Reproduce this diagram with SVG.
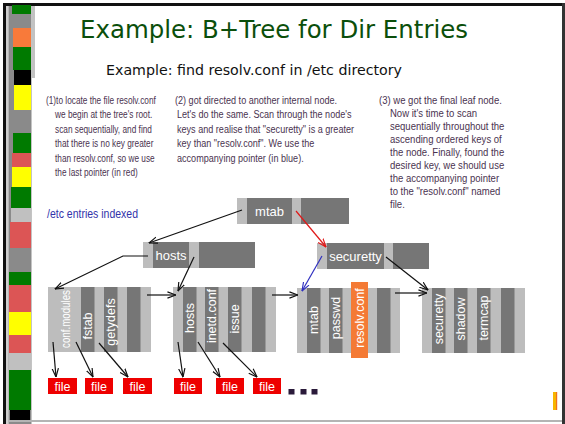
<svg xmlns="http://www.w3.org/2000/svg" width="565" height="424" viewBox="0 0 565 424">
<defs>
<marker id="ak" viewBox="0 0 10 10" refX="9.5" refY="5" markerWidth="9" markerHeight="9" orient="auto" markerUnits="userSpaceOnUse"><path d="M0,1.5 L9.5,5 L0,8.5" fill="none" stroke="#111" stroke-width="1.3"/></marker>
<marker id="ar" viewBox="0 0 10 10" refX="9.5" refY="5" markerWidth="9" markerHeight="9" orient="auto" markerUnits="userSpaceOnUse"><path d="M0,1.5 L9.5,5 L0,8.5" fill="none" stroke="#e01818" stroke-width="1.3"/></marker>
<marker id="ab" viewBox="0 0 10 10" refX="9.5" refY="5" markerWidth="9" markerHeight="9" orient="auto" markerUnits="userSpaceOnUse"><path d="M0,1.5 L9.5,5 L0,8.5" fill="none" stroke="#3030c0" stroke-width="1.3"/></marker>
</defs>
<style>
.lt{fill:#bdbdbd}
.dk{fill:#767676}
.key{font-family:"Liberation Sans",Arial,sans-serif;font-size:12.5px;fill:#fff;text-anchor:middle}
.nk{font-family:"Liberation Sans",Arial,sans-serif;font-size:13px;fill:#fff;text-anchor:middle}
.par{font-family:"Liberation Sans",Arial,sans-serif;font-size:11.5px;fill:#4a3350}
.file rect{fill:#ee0000}
.file text{font-family:"Liberation Sans",Arial,sans-serif;font-size:12.5px;fill:#fff;text-anchor:middle}
.c{fill:none;stroke:#111;stroke-width:1.2;marker-end:url(#ak)}
</style>
<rect width="565" height="424" fill="#fff"/>
<g id="frame">
<rect x="3" y="3" width="562" height="3" fill="#111"/>
<rect x="3" y="3" width="3" height="421" fill="#111"/>
<rect x="6" y="6" width="2.5" height="418" fill="#cfcfcf"/>
<rect x="8.5" y="6" width="23" height="418" fill="#8a8a8a"/>
<rect x="31.5" y="6" width="3.5" height="72" fill="#c2c2c2"/>
<rect x="562" y="3" width="3" height="421" fill="#333"/>
<rect x="8" y="420" width="554" height="2" fill="#b4b4b4"/>
<rect x="12" y="5" width="19" height="9" fill="#007a00"/>
<rect x="13" y="28" width="18" height="19" fill="#f87a3a"/>
<rect x="13" y="47" width="18" height="23" fill="#007a00"/>
<rect x="14" y="70" width="17" height="15" fill="#000"/>
<rect x="14" y="85" width="17" height="25" fill="#ffff00"/>
<rect x="13" y="133" width="18" height="20" fill="#007a00"/>
<rect x="12" y="153" width="19" height="14" fill="#dc5555"/>
<rect x="12" y="167" width="19" height="20" fill="#ffff00"/>
<rect x="11" y="187" width="20" height="21" fill="#007a00"/>
<rect x="11" y="208" width="20" height="14" fill="#c0c0c0"/>
<rect x="10" y="222" width="21" height="26" fill="#dc5555"/>
<rect x="9" y="272" width="22" height="13" fill="#007a00"/>
<rect x="9" y="285" width="22" height="27" fill="#dc5555"/>
<rect x="9" y="312" width="22" height="23" fill="#ffff00"/>
<rect x="9" y="335" width="22" height="18" fill="#dc5555"/>
<rect x="9" y="353" width="22" height="17" fill="#c0c0c0"/>
<rect x="9" y="370" width="22" height="40" fill="#007a00"/>
<rect x="10" y="410" width="20" height="10" fill="#000"/>
<rect x="553" y="392" width="4" height="18" fill="#f7b500"/>
<rect x="556" y="392" width="1.2" height="18" fill="#f07020"/>
</g>
<g id="titles">
<text x="80" y="38" font-family="'DejaVu Sans',sans-serif" font-size="25" fill="#0b4f0b" textLength="388" lengthAdjust="spacingAndGlyphs">Example: B+Tree for Dir Entries</text>
<text x="106" y="75" font-family="'DejaVu Sans',sans-serif" font-size="14" fill="#111" textLength="296" lengthAdjust="spacingAndGlyphs">Example: find resolv.conf in /etc directory</text>
</g>
<g id="note1" class="par" transform="translate(46,0) scale(0.72,1)">
<text x="0" y="104">(1)to locate the file resolv.conf</text>
<text x="12.5" y="118.5">we begin at the tree's root.</text>
<text x="12.5" y="133">scan sequentially, and find</text>
<text x="12.5" y="147.5">that there is no key greater</text>
<text x="12.5" y="162">than resolv.conf, so we use</text>
<text x="12.5" y="176.5">the last pointer (in red)</text>
</g>
<g id="note2" class="par" transform="translate(175,0) scale(0.79,1)">
<text x="0" y="104">(2) got directed to another internal node.</text>
<text x="2.5" y="118.5">Let's do the same. Scan through the node's</text>
<text x="2.5" y="133">keys and realise that "securetty" is a greater</text>
<text x="2.5" y="147.5">key than  "resolv.conf". We use the</text>
<text x="2.5" y="162">accompanying pointer (in blue).</text>
</g>
<g id="note3" class="par" transform="translate(379,0) scale(0.83,1)">
<text x="0" y="104">(3) we got the final leaf node.</text>
<text x="13.25" y="117">Now it's time to scan</text>
<text x="13.25" y="130">sequentially throughout the</text>
<text x="13.25" y="143">ascending ordered keys of</text>
<text x="13.25" y="156">the node. Finally, found the</text>
<text x="13.25" y="169">desired key, we should use</text>
<text x="13.25" y="182">the accompanying pointer</text>
<text x="13.25" y="195">to the "resolv.conf" named</text>
<text x="13.25" y="208">file.</text>
</g>
<g id="caption" transform="translate(47,0) scale(0.84,1)">
<text x="0" y="218.5" font-family="'Liberation Sans',Arial,sans-serif" font-size="12.5" fill="#3333aa">/etc entries indexed</text>
</g>
<g id="root">
<rect class="lt" x="237" y="198" width="112" height="26"/>
<rect class="dk" x="247" y="198" width="45" height="26"/>
<rect class="dk" x="301" y="198" width="48" height="26"/>
<text class="nk" x="269.5" y="215.5">mtab</text>
</g>
<g id="hosts">
<rect class="lt" x="143" y="242" width="112" height="26"/>
<rect class="dk" x="153" y="242" width="36" height="26"/>
<rect class="dk" x="199" y="242" width="56" height="26"/>
<text class="nk" x="171" y="259.5">hosts</text>
</g>
<g id="securetty">
<rect class="lt" x="317" y="243" width="112" height="26"/>
<rect class="dk" x="327" y="243" width="57" height="26"/>
<rect class="dk" x="393" y="243" width="36" height="26"/>
<text class="nk" x="355.5" y="260.5">securetty</text>
</g>
<g id="leaf1">
<rect class="lt" x="48" y="287" width="103" height="65"/>
<rect class="dk" x="81" y="287" width="13.5" height="65"/>
<rect class="dk" x="104" y="287" width="13.5" height="65"/>
<rect class="dk" x="127" y="287" width="13.5" height="65"/>
<text class="key" transform="translate(69.5,319) rotate(-90) scale(0.78,1)">conf.modules</text>
<text class="key" transform="translate(92,326) rotate(-90)">fstab</text>
<text class="key" transform="translate(115,322) rotate(-90)">getydefs</text>
</g>
<g id="leaf2">
<rect class="lt" x="173" y="287" width="103" height="65"/>
<rect class="dk" x="183" y="287" width="13.5" height="65"/>
<rect class="dk" x="205" y="287" width="13.5" height="65"/>
<rect class="dk" x="228" y="287" width="13.5" height="65"/>
<rect class="dk" x="252" y="287" width="13.5" height="65"/>
<text class="key" transform="translate(194,318) rotate(-90)">hosts</text>
<text class="key" transform="translate(216,316) rotate(-90)">inetd.conf</text>
<text class="key" transform="translate(239,319) rotate(-90)">issue</text>
</g>
<g id="leaf3">
<rect class="lt" x="297" y="288" width="103" height="65"/>
<rect class="dk" x="307" y="288" width="13.5" height="65"/>
<rect class="dk" x="329" y="288" width="13.5" height="65"/>
<rect class="dk" x="377" y="288" width="13.5" height="65"/>
<rect x="351" y="282" width="17" height="76" fill="#f47a35"/>
<text class="key" transform="translate(318,320) rotate(-90)">mtab</text>
<text class="key" transform="translate(340,318) rotate(-90)">passwd</text>
<text class="key" transform="translate(364,318) rotate(-90)">resolv.conf</text>
</g>
<g id="leaf4">
<rect class="lt" x="422" y="288" width="103" height="65"/>
<rect class="dk" x="432" y="288" width="13.5" height="65"/>
<rect class="dk" x="454" y="288" width="13.5" height="65"/>
<rect class="dk" x="477" y="288" width="13.5" height="65"/>
<rect class="dk" x="501" y="288" width="13.5" height="65"/>
<text class="key" transform="translate(443,319) rotate(-90)">securetty</text>
<text class="key" transform="translate(465,319) rotate(-90)">shadow</text>
<text class="key" transform="translate(488,318) rotate(-90)">termcap</text>
</g>
<g id="file1" class="file"><rect x="48" y="378" width="29" height="16"/><text x="62.5" y="390.5">file</text></g>
<g id="file2" class="file"><rect x="85" y="378" width="28" height="16"/><text x="99" y="390.5">file</text></g>
<g id="file3" class="file"><rect x="123" y="378" width="29" height="16"/><text x="137.5" y="390.5">file</text></g>
<g id="file4" class="file"><rect x="174" y="378" width="28" height="16"/><text x="188" y="390.5">file</text></g>
<g id="file5" class="file"><rect x="216" y="378" width="28" height="16"/><text x="230" y="390.5">file</text></g>
<g id="file6" class="file"><rect x="253" y="378" width="28" height="16"/><text x="267" y="390.5">file</text></g>
<g id="more" fill="#2a1a3a">
<rect x="288.5" y="389" width="6" height="5.5"/>
<rect x="300.5" y="389" width="6" height="5.5"/>
<rect x="311.5" y="389" width="6" height="5.5"/>
</g>
<g id="connectors">
<path class="c" d="M242,210 L149,243"/>
<path d="M296,211 L326,247" fill="none" stroke="#e01818" stroke-width="1.2" marker-end="url(#ar)"/>
<path class="c" d="M148,256 L123,256 L55,289"/>
<path class="c" d="M194,257 L178,291"/>
<path d="M322,256 L302,291" fill="none" stroke="#3030c0" stroke-width="1.2" marker-end="url(#ab)"/>
<path class="c" d="M386,257 L428,290"/>
<path class="c" d="M147,295 L176,295"/>
<path class="c" d="M272,295 L298,295"/>
<path class="c" d="M395,293 L427,293"/>
<path class="c" d="M53,342 L56,377"/>
<path class="c" d="M76,342 L93,377"/>
<path class="c" d="M99,343 L128,377"/>
<path class="c" d="M178,342 L183,377"/>
<path class="c" d="M198,342 L220,377"/>
<path class="c" d="M223,343 L257,377"/>
</g>
</svg>
